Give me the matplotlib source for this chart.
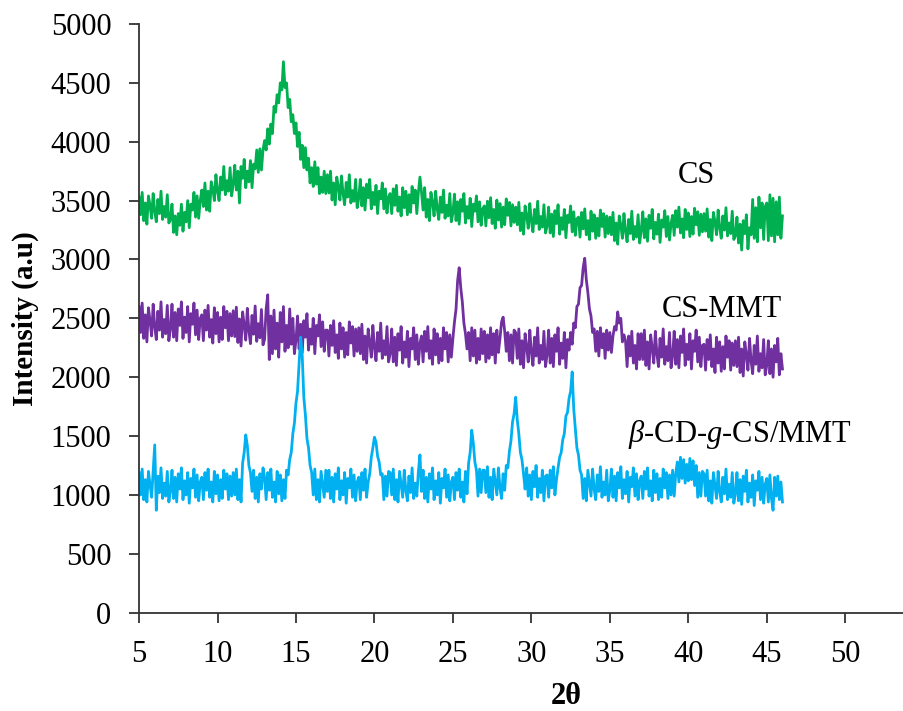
import numpy as np
import matplotlib
matplotlib.use("Agg")
import matplotlib.pyplot as plt

plt.rcParams['font.family'] = ['Liberation Serif', 'DejaVu Serif']
plt.rcParams['mathtext.fontset'] = 'custom'
plt.rcParams['mathtext.rm'] = 'Liberation Serif'
plt.rcParams['mathtext.it'] = 'Liberation Serif:italic'

# scan positions, 2theta from 5 to 46 deg in 0.1 deg steps
two_theta = np.round(np.arange(5.0, 46.001, 0.1), 1)

# CS (green), one row = 2 deg
cs = [
    3530, 3380, 3570, 3330, 3480, 3300, 3540, 3460, 3350, 3560, 3410, 3320, 3510, 3390, 3580, 3340, 3450, 3360, 3550, 3310,
    3340, 3470, 3230, 3370, 3210, 3390, 3290, 3470, 3240, 3400, 3320, 3500, 3270, 3470, 3420, 3570, 3360, 3540, 3350, 3500,
    3590, 3450, 3650, 3420, 3580, 3410, 3660, 3600, 3500, 3720, 3580, 3500, 3700, 3590, 3790, 3550, 3670, 3580, 3780, 3540,
    3640, 3800, 3590, 3750, 3480, 3790, 3690, 3850, 3610, 3750, 3660, 3840, 3610, 3810, 3770, 3930, 3740, 3940, 3760, 3930,
    4010, 3930, 4110, 3980, 4150, 4070, 4300, 4250, 4400, 4330, 4500, 4440, 4680, 4460, 4500, 4290, 4360, 4170, 4230, 4070,
    4160, 3960, 4080, 3850, 3970, 3780, 3950, 3760, 3860, 3650, 3780, 3620, 3830, 3640, 3780, 3560, 3700, 3570, 3750, 3560,
    3720, 3565, 3750, 3505, 3650, 3465, 3700, 3620, 3505, 3710, 3560, 3465, 3655, 3530, 3720, 3480, 3585, 3495, 3680, 3440,
    3520, 3680, 3455, 3610, 3420, 3640, 3525, 3680, 3430, 3570, 3465, 3630, 3390, 3580, 3515, 3650, 3430, 3600, 3395, 3530,
    3560, 3390, 3600, 3460, 3630, 3410, 3530, 3370, 3610, 3440, 3580, 3380, 3550, 3400, 3620, 3480, 3590, 3390, 3570, 3700,
    3570, 3420, 3610, 3360, 3510, 3330, 3570, 3490, 3370, 3580, 3430, 3340, 3530, 3400, 3590, 3350, 3460, 3370, 3560, 3320,
    3395, 3555, 3330, 3490, 3300, 3510, 3410, 3560, 3310, 3450, 3350, 3520, 3280, 3470, 3410, 3540, 3320, 3490, 3290, 3430,
    3455, 3285, 3495, 3355, 3525, 3305, 3425, 3265, 3505, 3335, 3475, 3275, 3445, 3295, 3515, 3375, 3485, 3285, 3465, 3315,
    3445, 3295, 3485, 3245, 3395, 3215, 3455, 3375, 3265, 3475, 3325, 3235, 3425, 3305, 3495, 3255, 3365, 3275, 3465, 3225,
    3285, 3445, 3225, 3385, 3195, 3415, 3305, 3465, 3215, 3355, 3255, 3425, 3185, 3375, 3315, 3455, 3235, 3405, 3205, 3345,
    3360, 3190, 3400, 3260, 3430, 3210, 3330, 3170, 3410, 3240, 3380, 3180, 3350, 3200, 3420, 3280, 3390, 3190, 3370, 3220,
    3360, 3210, 3400, 3160, 3310, 3130, 3370, 3290, 3180, 3390, 3240, 3150, 3340, 3220, 3410, 3170, 3280, 3190, 3380, 3140,
    3245, 3405, 3185, 3345, 3155, 3375, 3265, 3425, 3175, 3315, 3215, 3385, 3145, 3335, 3275, 3415, 3195, 3365, 3165, 3305,
    3375, 3205, 3415, 3275, 3445, 3225, 3345, 3185, 3425, 3255, 3395, 3195, 3365, 3215, 3435, 3295, 3405, 3205, 3385, 3235,
    3390, 3240, 3430, 3190, 3340, 3160, 3400, 3320, 3210, 3420, 3270, 3180, 3370, 3250, 3440, 3200, 3310, 3220, 3410, 3170,
    3200, 3360, 3140, 3300, 3080, 3330, 3220, 3380, 3090, 3270, 3210, 3510, 3180, 3440, 3150, 3530, 3270, 3480, 3170, 3450,
    3480, 3160, 3550, 3200, 3520, 3150, 3490, 3210, 3530, 3180, 3370,
]

# CS-MMT (purple)
cs_mmt = [
    2600, 2380, 2630, 2330, 2530, 2300, 2590, 2480, 2350, 2620, 2430, 2320, 2560, 2400, 2640, 2340, 2490, 2370, 2610, 2310,
    2410, 2620, 2340, 2550, 2310, 2580, 2440, 2640, 2330, 2510, 2380, 2600, 2300, 2540, 2450, 2630, 2360, 2570, 2320, 2500,
    2530, 2310, 2570, 2400, 2610, 2340, 2490, 2290, 2590, 2370, 2550, 2300, 2510, 2320, 2600, 2420, 2560, 2310, 2540, 2350,
    2565, 2345, 2595, 2295, 2495, 2265, 2555, 2445, 2315, 2585, 2395, 2285, 2525, 2365, 2605, 2305, 2455, 2335, 2575, 2275,
    2320, 2580, 2700, 2150, 2520, 2200, 2570, 2240, 2460, 2170, 2550, 2300, 2600, 2220, 2440, 2250, 2580, 2280, 2500, 2200,
    2310, 2520, 2240, 2450, 2210, 2480, 2340, 2540, 2230, 2410, 2280, 2500, 2200, 2440, 2350, 2530, 2260, 2470, 2220, 2400,
    2400, 2180, 2440, 2270, 2480, 2210, 2360, 2160, 2460, 2240, 2420, 2170, 2380, 2190, 2470, 2290, 2430, 2180, 2410, 2220,
    2420, 2200, 2450, 2150, 2350, 2120, 2410, 2300, 2170, 2440, 2250, 2140, 2380, 2220, 2460, 2160, 2310, 2190, 2430, 2130,
    2200, 2410, 2130, 2340, 2100, 2370, 2230, 2430, 2120, 2300, 2170, 2390, 2090, 2330, 2240, 2420, 2150, 2360, 2110, 2290,
    2350, 2130, 2390, 2220, 2430, 2160, 2310, 2110, 2410, 2190, 2370, 2120, 2330, 2140, 2420, 2240, 2380, 2130, 2360, 2170,
    2330, 2470, 2580, 2820, 2930, 2760, 2640, 2460, 2370, 2240, 2380, 2140, 2420, 2180, 2400, 2120, 2330, 2150, 2410, 2200,
    2390, 2130, 2360, 2160, 2420, 2190, 2370, 2120, 2400, 2210, 2330, 2470, 2510, 2390, 2220, 2380, 2140, 2360, 2120, 2400,
    2380, 2160, 2410, 2110, 2310, 2080, 2370, 2260, 2130, 2400, 2210, 2100, 2340, 2180, 2420, 2120, 2270, 2150, 2390, 2090,
    2190, 2400, 2120, 2330, 2090, 2360, 2220, 2420, 2110, 2290, 2160, 2380, 2080, 2320, 2230, 2380, 2280, 2460, 2420, 2600,
    2620, 2760, 2780, 2930, 3010, 2830, 2720, 2580, 2520, 2380, 2410, 2220, 2390, 2180, 2420, 2250, 2370, 2160, 2400, 2230,
    2380, 2210, 2350, 2430, 2400, 2555, 2460, 2500, 2300, 2360, 2310, 2090, 2350, 2180, 2390, 2120, 2270, 2070, 2370, 2150,
    2370, 2150, 2400, 2100, 2300, 2070, 2360, 2250, 2120, 2390, 2200, 2090, 2330, 2170, 2410, 2110, 2260, 2140, 2380, 2080,
    2180, 2390, 2110, 2320, 2080, 2350, 2210, 2410, 2100, 2280, 2150, 2370, 2070, 2310, 2220, 2400, 2130, 2340, 2090, 2270,
    2280, 2060, 2320, 2150, 2360, 2090, 2240, 2040, 2340, 2120, 2300, 2050, 2260, 2070, 2350, 2170, 2310, 2060, 2290, 2100,
    2310, 2090, 2340, 2040, 2240, 2010, 2300, 2190, 2060, 2330, 2140, 2030, 2270, 2110, 2350, 2050, 2200, 2080, 2320, 2020,
    2100, 2310, 2030, 2240, 2000, 2270, 2130, 2330, 2020, 2200, 2070,
]

# beta-CD-g-CS/MMT (blue)
cd_cs_mmt = [
    1190, 1000, 1220, 960, 1130, 940, 1200, 1090, 980, 1210, 1425, 870, 1160, 1020, 1230, 970, 1100, 990, 1200, 940,
    1030, 1210, 970, 1150, 940, 1180, 1050, 1230, 960, 1120, 1000, 1190, 930, 1140, 1060, 1220, 980, 1170, 950, 1110,
    1150, 960, 1190, 1040, 1220, 980, 1110, 940, 1200, 1010, 1170, 950, 1130, 970, 1210, 1050, 1180, 960, 1160, 990,
    1190, 1000, 1220, 960, 1130, 940, 1270, 1360, 1510, 1420, 1250, 1190, 1030, 1210, 970, 1150, 940, 1180, 1050, 1230,
    1150, 960, 1190, 1040, 1220, 980, 1110, 940, 1200, 1010, 1170, 950, 1130, 970, 1210, 1170, 1300, 1360, 1520, 1610,
    1780, 1880, 2120, 2340, 2180, 1830, 1680, 1480, 1400, 1250, 1190, 1000, 1220, 960, 1130, 940, 1200, 1090, 980, 1210,
    1030, 1210, 970, 1150, 940, 1180, 1050, 1230, 960, 1120, 1000, 1190, 930, 1140, 1060, 1220, 980, 1170, 950, 1110,
    1150, 960, 1190, 1040, 1220, 980, 1110, 1180, 1320, 1400, 1490, 1450, 1330, 1280, 1170, 1180, 960, 1160, 990, 1200,
    1190, 1000, 1220, 960, 1130, 940, 1200, 1090, 980, 1210, 1040, 950, 1160, 1020, 1230, 970, 1100, 990, 1200, 1340,
    1030, 1210, 970, 1150, 940, 1180, 1050, 1230, 960, 1120, 1000, 1190, 930, 1140, 1060, 1220, 980, 1170, 950, 1110,
    1150, 960, 1190, 1040, 1220, 980, 1110, 940, 1200, 1010, 1270, 1360, 1550, 1440, 1280, 1210, 990, 1220, 1020, 1210,
    1210, 1020, 1240, 980, 1150, 960, 1220, 1110, 1000, 1230, 1060, 970, 1180, 1040, 1250, 1230, 1370, 1460, 1620, 1690,
    1830, 1640, 1520, 1360, 1300, 1180, 1050, 1230, 990, 1170, 960, 1200, 1070, 1250, 980, 1140, 1020, 1210, 950, 1160,
    1170, 980, 1210, 1060, 1240, 1000, 1130, 1230, 1320, 1360, 1470, 1520, 1670, 1700, 1820, 1880, 2045, 1730, 1570, 1400,
    1340, 1210, 1170, 970, 1140, 950, 1210, 1100, 990, 1220, 1050, 960, 1170, 1030, 1240, 980, 1110, 1000, 1210, 950,
    1040, 1220, 980, 1160, 950, 1190, 1060, 1240, 970, 1130, 1010, 1200, 940, 1150, 1070, 1230, 990, 1180, 960, 1120,
    1160, 970, 1200, 1050, 1230, 990, 1120, 950, 1210, 1020, 1180, 960, 1140, 980, 1220, 1060, 1190, 970, 1170, 1000,
    1210, 990, 1180, 1280, 1110, 1320, 1140, 1300, 1100, 1260, 1120, 1310, 1130, 1290, 1080, 1250, 980, 1190, 990, 1200,
    1180, 990, 1210, 950, 1120, 930, 1190, 1080, 970, 1200, 1030, 940, 1150, 1010, 1220, 960, 1090, 980, 1190, 930,
    1010, 1190, 950, 1130, 920, 1160, 1030, 1210, 940, 1100, 980, 1170, 910, 1120, 1040, 1200, 960, 1150, 930, 1090,
    1140, 940, 1170, 970, 870, 1150, 990, 1160, 960, 1110, 940,
]

y_ticks = list(range(0, 5001, 500))
x_ticks = list(range(5, 51, 5))

fig = plt.figure(figsize=(9.04, 7.11), dpi=100)
ax = fig.add_axes([0.1538, 0.1383, 0.868, 0.8279])

ax.plot(two_theta, cs, color='#00B050', lw=2.0)
ax.plot(two_theta, cs_mmt, color='#7030A0', lw=2.0)
ax.plot(two_theta, cd_cs_mmt, color='#00B0F0', lw=2.0)

ax.set_xlim(5, 55)
ax.set_ylim(0, 5000)
ax.set_xticks(x_ticks)
ax.set_yticks(y_ticks)
ax.spines['top'].set_visible(False)
ax.spines['right'].set_visible(False)
for s in ['left', 'bottom']:
    ax.spines[s].set_linewidth(1.3)
    ax.spines[s].set_color('#333333')
ax.tick_params(direction='out', length=7, width=1.3, color='#333333',
               labelsize=22, pad=13)

ax.text(39.35, 3648, 'CS', fontsize=22)
ax.text(38.33, 2512, 'CS-MMT', fontsize=22)
ax.text(36.17, 1450, r'$\beta$-CD-$g$-CS/MMT', fontsize=22)

fig.text(566 / 904, 1 - 697 / 711, '2θ', fontsize=22, fontweight='bold',
         ha='center', va='center')
fig.text(25 / 904, 1 - 319 / 711, 'Intensity (a.u)', fontsize=21,
         fontweight='bold', rotation=90, ha='center', va='center')

fig.savefig('out.png', dpi=100)
